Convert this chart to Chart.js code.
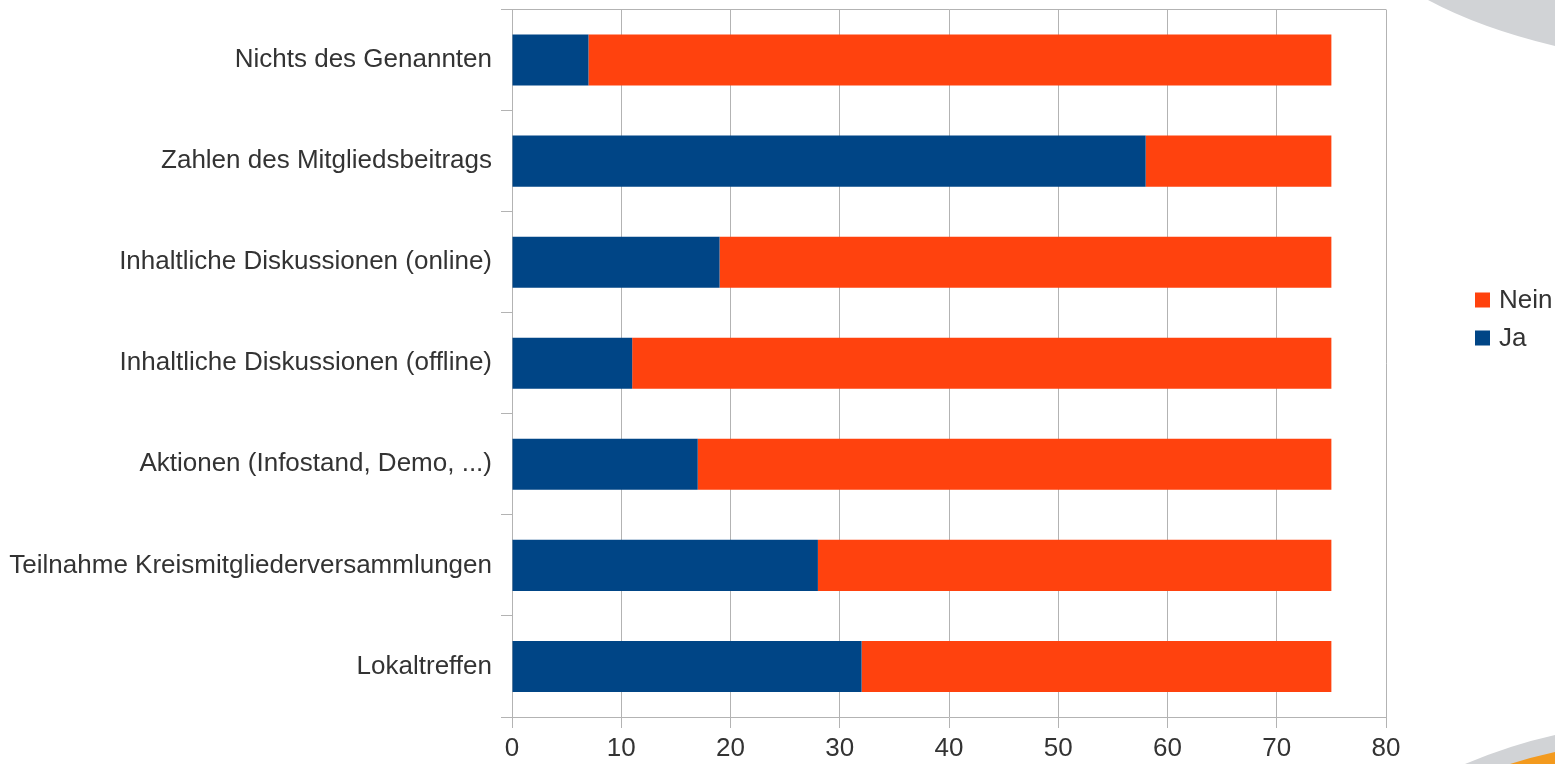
<!DOCTYPE html>
<html>
<head>
<meta charset="utf-8">
<script src="https://cdn.jsdelivr.net/npm/chart.js@4/dist/chart.umd.min.js"></script>
<style>
  html, body { margin: 0; padding: 0; background: #ffffff; }
  #wrap { position: relative; width: 1555px; height: 764px; }
</style>
</head>
<body>
<div id="wrap"><canvas id="c" width="1555" height="764"></canvas></div>
<script>
const categories = [
  "Nichts des Genannten",
  "Zahlen des Mitgliedsbeitrags",
  "Inhaltliche Diskussionen (online)",
  "Inhaltliche Diskussionen (offline)",
  "Aktionen (Infostand, Demo, ...)",
  "Teilnahme Kreismitgliederversammlungen",
  "Lokaltreffen"
];
const jaValues   = [7, 58, 19, 11, 17, 28, 32];
const neinValues = [68, 17, 56, 64, 58, 47, 43];
const xTicks = [0, 10, 20, 30, 40, 50, 60, 70, 80];

const BLUE = '#004586';
const ORANGE = '#ff420e';
const GRID = '#b3b3b3';
const TEXT = '#333333';
const FONT = "'Liberation Sans', Arial, sans-serif";
const FS = 26;

const decoPlugin = {
  id: 'deco',
  beforeDraw(chart) {
    const ctx = chart.ctx;
    ctx.save();
    ctx.fillStyle = '#ffffff';
    ctx.fillRect(0, 0, chart.width, chart.height);
    ctx.fillStyle = '#d1d3d6';
    ctx.beginPath();
    ctx.moveTo(1428, 0);
    ctx.quadraticCurveTo(1480, 28, 1555, 46);
    ctx.lineTo(1555, 0);
    ctx.closePath();
    ctx.fill();
    ctx.beginPath();
    ctx.moveTo(1465, 764);
    ctx.quadraticCurveTo(1510, 745, 1555, 735);
    ctx.lineTo(1555, 764);
    ctx.closePath();
    ctx.fill();
    ctx.fillStyle = '#f39a1e';
    ctx.beginPath();
    ctx.moveTo(1510, 764);
    ctx.quadraticCurveTo(1532, 757, 1555, 752);
    ctx.lineTo(1555, 764);
    ctx.closePath();
    ctx.fill();
    ctx.restore();
  }
};

const legendPlugin = {
  id: 'customLegend',
  afterDraw(chart) {
    const ctx = chart.ctx;
    const ds = chart.data.datasets.slice().reverse();
    ctx.save();
    ctx.font = FS + 'px ' + FONT;
    ctx.textBaseline = 'middle';
    ctx.textAlign = 'left';
    ds.forEach((d, i) => {
      const cy = 300 + i * 38;
      ctx.fillStyle = d.backgroundColor;
      ctx.fillRect(1475, cy - 7.5, 15, 15);
      ctx.fillStyle = TEXT;
      ctx.fillText(d.label, 1499, cy + 1);
    });
    ctx.restore();
  }
};

new Chart(document.getElementById('c'), {
  type: 'bar',
  data: {
    labels: categories,
    datasets: [
      { label: 'Ja', data: jaValues, backgroundColor: BLUE, borderWidth: 0,
        categoryPercentage: 1.0, barPercentage: 0.505 },
      { label: 'Nein', data: neinValues, backgroundColor: ORANGE, borderWidth: 0,
        categoryPercentage: 1.0, barPercentage: 0.505 }
    ]
  },
  options: {
    indexAxis: 'y',
    responsive: false,
    animation: false,
    devicePixelRatio: 1,
    layout: { padding: { top: 9.5, right: 169, bottom: 0, left: 0 } },
    plugins: {
      legend: { display: false },
      tooltip: { enabled: false },
      title: { display: false }
    },
    scales: {
      x: {
        stacked: true,
        min: 0,
        max: 80,
        afterFit(scale) { scale.height = 47; scale.paddingLeft = 0; scale.paddingRight = 0; },
        afterBuildTicks(scale) { scale.ticks = xTicks.map(v => ({ value: v })); },
        grid: { color: GRID, tickColor: GRID, tickLength: 11, lineWidth: 1 },
        border: { display: true, color: GRID },
        ticks: { color: TEXT, font: { family: FONT, size: FS }, padding: 5, maxRotation: 0 }
      },
      y: {
        stacked: true,
        afterFit(scale) { scale.width = 512; scale.paddingTop = 0; scale.paddingBottom = 0; },
        grid: {
          offset: true,
          drawOnChartArea: true,
          color: (c) => (c.index === 0 ? GRID : 'rgba(0,0,0,0)'),
          tickColor: GRID,
          tickLength: 11,
          lineWidth: 1
        },
        border: { display: true, color: GRID },
        ticks: { color: TEXT, font: { family: FONT, size: FS }, padding: 9 }
      }
    }
  },
  plugins: [decoPlugin, legendPlugin]
});
</script>
</body>
</html>
